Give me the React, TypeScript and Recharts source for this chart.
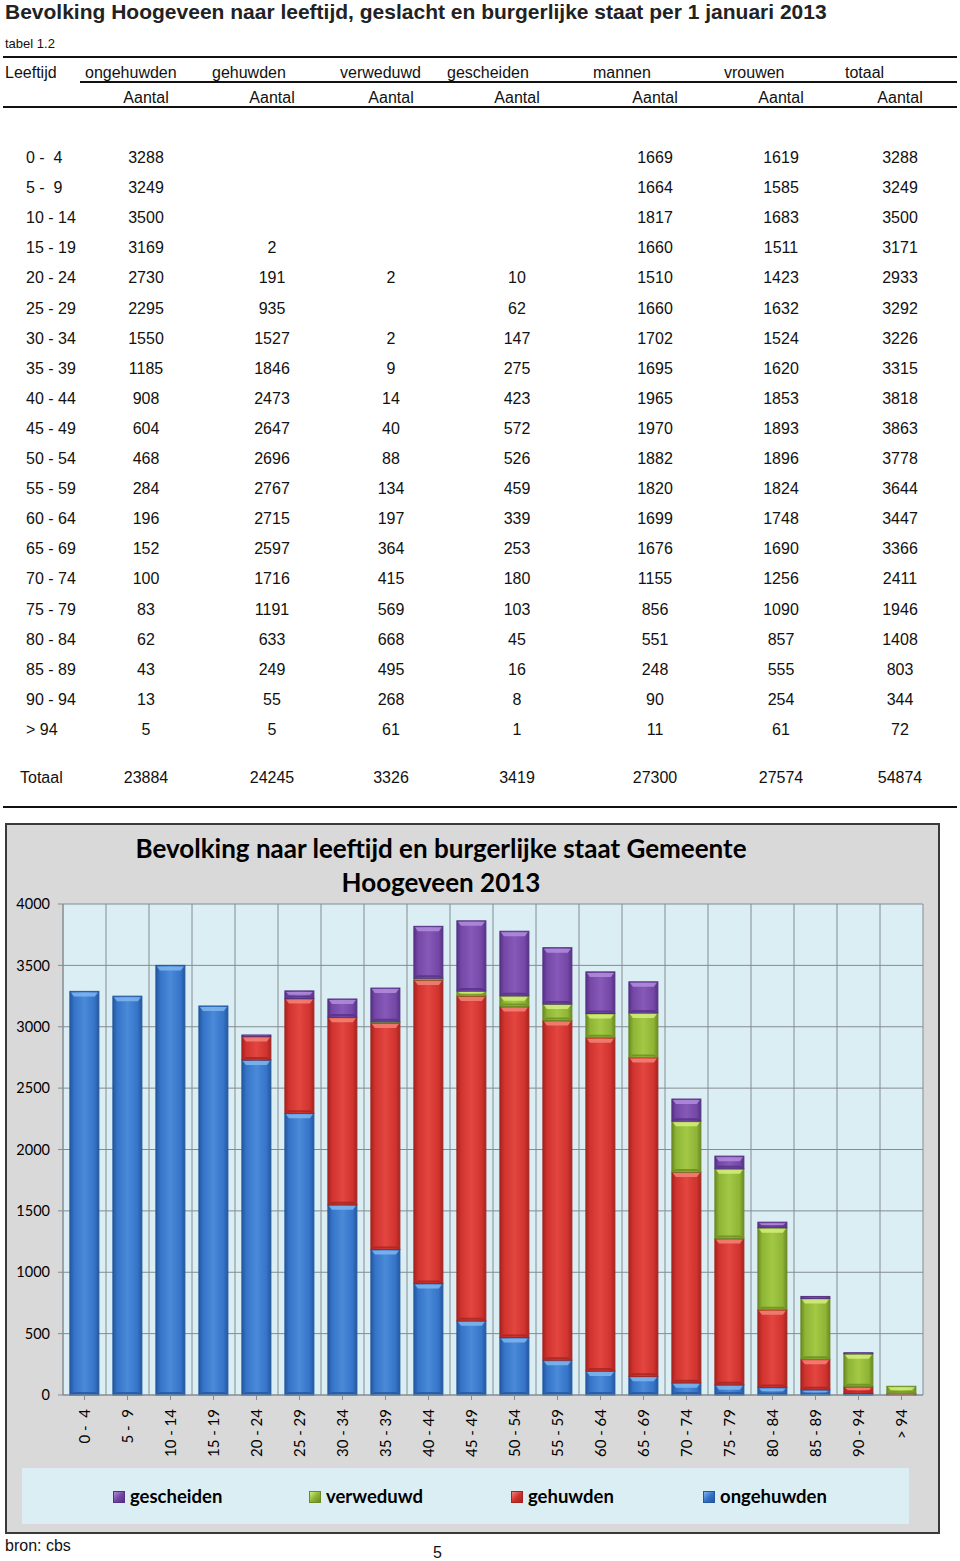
import React from 'react';
import { BarChart, Bar, XAxis, YAxis, CartesianGrid } from 'recharts';

const ages = ['0 -  4', '5 -  9', '10 - 14', '15 - 19', '20 - 24', '25 - 29', '30 - 34', '35 - 39', '40 - 44', '45 - 49', '50 - 54', '55 - 59', '60 - 64', '65 - 69', '70 - 74', '75 - 79', '80 - 84', '85 - 89', '90 - 94', '> 94'];
const ongehuwden = [3288, 3249, 3500, 3169, 2730, 2295, 1550, 1185, 908, 604, 468, 284, 196, 152, 100, 83, 62, 43, 13, 5];
const gehuwden = [null, null, null, 2, 191, 935, 1527, 1846, 2473, 2647, 2696, 2767, 2715, 2597, 1716, 1191, 633, 249, 55, 5];
const verweduwd = [null, null, null, null, 2, null, 2, 9, 14, 40, 88, 134, 197, 364, 415, 569, 668, 495, 268, 61];
const gescheiden = [null, null, null, null, 10, 62, 147, 275, 423, 572, 526, 459, 339, 253, 180, 103, 45, 16, 8, 1];
const mannen = [1669, 1664, 1817, 1660, 1510, 1660, 1702, 1695, 1965, 1970, 1882, 1820, 1699, 1676, 1155, 856, 551, 248, 90, 11];
const vrouwen = [1619, 1585, 1683, 1511, 1423, 1632, 1524, 1620, 1853, 1893, 1896, 1824, 1748, 1690, 1256, 1090, 857, 555, 254, 61];
const totaal = [3288, 3249, 3500, 3171, 2933, 3292, 3226, 3315, 3818, 3863, 3778, 3644, 3447, 3366, 2411, 1946, 1408, 803, 344, 72];
const totals = [23884, 24245, 3326, 3419, 27300, 27574, 54874];

const headers = ['ongehuwden', 'gehuwden', 'verweduwd', 'gescheiden', 'mannen', 'vrouwen', 'totaal'];
const yTicks = [0, 500, 1000, 1500, 2000, 2500, 3000, 3500, 4000];
const legendItems = ['gescheiden', 'verweduwd', 'gehuwden', 'ongehuwden'];

const columns = [ongehuwden, gehuwden, verweduwd, gescheiden, mannen, vrouwen, totaal];
const chartData = ages.map((age, i) => ({
  age,
  ongehuwden: ongehuwden[i] ?? 0,
  gehuwden: gehuwden[i] ?? 0,
  verweduwd: verweduwd[i] ?? 0,
  gescheiden: gescheiden[i] ?? 0,
}));

// table layout
const colCenters = [146, 272, 391, 517, 655, 781, 900];
const headLefts = [85, 212, 340, 447, 593, 724, 845];

const tones: Record<string, { dark: string; mid: string; light: string; hi: string }> = {
  ongehuwden: { dark: '#24579e', mid: '#3574c8', light: '#4a8ad8', hi: '#7fb6f0' },
  gehuwden: { dark: '#a62420', mid: '#d1332e', light: '#e2463f', hi: '#f38478' },
  verweduwd: { dark: '#6b8a22', mid: '#8fb536', light: '#a3c845', hi: '#d2ee7c' },
  gescheiden: { dark: '#553184', mid: '#7548a8', light: '#8658b8', hi: '#b18ddc' },
};

const BevelBar = (props: any) => {
  const { x, y, width, height, series } = props;
  if (!height || height <= 0.5) return null;
  const t = tones[series];
  const b = Math.min(5, height / 2);
  const b2 = Math.min(3, height / 3);
  return (
    <g>
      <rect x={x} y={y} width={width} height={height} fill={`url(#grad-${series})`} stroke={t.dark} strokeWidth={1} />
      <polygon
        points={`${x + 1},${y + 1} ${x + width - 1},${y + 1} ${x + width - 4},${y + b} ${x + 4},${y + b}`}
        fill={t.hi}
        opacity={0.85}
      />
      <polygon
        points={`${x + 4},${y + height - b2} ${x + width - 4},${y + height - b2} ${x + width - 1},${y + height - 1} ${x + 1},${y + height - 1}`}
        fill={t.dark}
        opacity={0.8}
      />
    </g>
  );
};

const AgeTick = (props: any) => {
  const { x, y, payload } = props;
  return (
    <g transform={`translate(${x},${y})`}>
      <text transform="rotate(-90)" textAnchor="end" dy="0.36em" fontSize={15} fill="#000" fontFamily="Lato" style={{ whiteSpace: 'pre' }}>
        {payload.value}
      </text>
    </g>
  );
};

const abs = (left: number, top: number, extra: React.CSSProperties = {}): React.CSSProperties => ({
  position: 'absolute', left, top, ...extra,
});

export default function App() {
  const rowY = (i: number) => 158 + i * 30.1;
  return (
    <div style={{ position: 'absolute', left: 0, top: 0, width: 960, height: 1561, background: '#fff', fontFamily: '"Liberation Sans", Arial, sans-serif', color: '#111' }}>
      <div style={abs(5, 0, { fontSize: 21, fontWeight: 'bold', lineHeight: '24px', color: '#222', whiteSpace: 'nowrap' })}>
        Bevolking Hoogeveen naar leeftijd, geslacht en burgerlijke staat per 1 januari 2013
      </div>
      <div style={abs(5, 36, { fontSize: 13, lineHeight: '16px' })}>tabel 1.2</div>
      <div style={abs(3, 56, { width: 954, height: 2, background: '#111' })} />
      <div style={abs(5, 63, { fontSize: 16, lineHeight: '20px' })}>Leeftijd</div>
      {headers.map((h, j) => (
        <div key={h} style={abs(headLefts[j], 63, { fontSize: 16, lineHeight: '20px' })}>{h}</div>
      ))}
      <div style={abs(80, 81, { width: 877, height: 2, background: '#111' })} />
      {headers.map((h, j) => (
        <div key={'a' + h} style={abs(colCenters[j] - 40, 88, { width: 80, textAlign: 'center', fontSize: 16, lineHeight: '20px' })}>Aantal</div>
      ))}
      <div style={abs(3, 106, { width: 954, height: 2, background: '#111' })} />
      {ages.map((age, i) => (
        <React.Fragment key={age}>
          <div style={abs(26, rowY(i) - 10, { fontSize: 16, lineHeight: '20px', whiteSpace: 'pre' })}>{age}</div>
          {columns.map((col, j) => (
            <div key={j} style={abs(colCenters[j] - 40, rowY(i) - 10, { width: 80, textAlign: 'center', fontSize: 16, lineHeight: '20px' })}>
              {col[i] ?? ''}
            </div>
          ))}
        </React.Fragment>
      ))}
      <div style={abs(20, 768, { fontSize: 16, lineHeight: '20px' })}>Totaal</div>
      {totals.map((v, j) => (
        <div key={'t' + j} style={abs(colCenters[j] - 40, 768, { width: 80, textAlign: 'center', fontSize: 16, lineHeight: '20px' })}>{v}</div>
      ))}
      <div style={abs(3, 806, { width: 954, height: 2, background: '#111' })} />

      {/* chart box */}
      <div style={abs(5, 823, { width: 935, height: 711, boxSizing: 'border-box', border: '2px solid #3a3a3a', background: '#d9d9d9' })} />
      <BarChart
        width={935}
        height={711}
        data={chartData}
        margin={{ top: 81, right: 17, left: 0, bottom: 79 }}
        barCategoryGap="16%"
        style={{ position: 'absolute', left: 5, top: 823 }}
      >
        <defs>
          {Object.keys(tones).map((k) => (
            <linearGradient key={k} id={`grad-${k}`} x1="0" y1="0" x2="1" y2="0">
              <stop offset="0" stopColor={tones[k].dark} />
              <stop offset="0.15" stopColor={tones[k].mid} />
              <stop offset="0.5" stopColor={tones[k].light} />
              <stop offset="0.85" stopColor={tones[k].mid} />
              <stop offset="1" stopColor={tones[k].dark} />
            </linearGradient>
          ))}
        </defs>
        <CartesianGrid
          fill="#dbeef4"
          fillOpacity={1}
          stroke="#848c90"
          strokeWidth={1}
          verticalCoordinatesGenerator={({ offset }: any) =>
            ages.map((_, i) => offset.left + (i * offset.width) / ages.length).concat([offset.left + offset.width])
          }
        />
        <XAxis
          dataKey="age"
          interval={0}
          height={60}
          tickSize={5}
          tickMargin={9}
          stroke="#848c90"
          tick={<AgeTick />}
        />
        <YAxis
          width={58}
          domain={[0, 4000]}
          ticks={yTicks}
          interval={0}
          tickSize={5}
          tickMargin={8}
          stroke="#848c90"
          tick={{ fontSize: 14.5, fill: '#000', fontFamily: 'Lato' }}
        />
        {['ongehuwden', 'gehuwden', 'verweduwd', 'gescheiden'].map((k) => (
          <Bar key={k} dataKey={k} stackId="a" isAnimationActive={false} shape={(p: any) => <BevelBar {...p} series={k} />} />
        ))}
      </BarChart>

      {/* chart title */}
      <div style={abs(91, 831, { width: 700, textAlign: 'center', fontFamily: 'Lato', fontWeight: 'bold', fontSize: 26, lineHeight: '34px', color: '#000' })}>
        Bevolking naar leeftijd en burgerlijke staat Gemeente
        <br />
        Hoogeveen 2013
      </div>

      {/* legend */}
      <div style={abs(22, 1468, { width: 887, height: 56, background: '#dbeef4' })} />
      {legendItems.map((k, i) => {
        const left = [113, 309, 511, 703][i];
        const t = tones[k];
        return (
          <React.Fragment key={k}>
            <div style={abs(left, 1491, { width: 12, height: 12, background: `linear-gradient(135deg, ${t.hi}, ${t.mid} 50%, ${t.dark})`, boxSizing: 'border-box', border: `1px solid ${t.dark}` })} />
            <div style={abs(left + 17, 1483, { fontFamily: 'Lato', fontWeight: 'bold', fontSize: 18.5, lineHeight: '26px', color: '#000' })}>{k}</div>
          </React.Fragment>
        );
      })}

      <div style={abs(5, 1536, { fontSize: 16, lineHeight: '20px' })}>bron: cbs</div>
      <div style={abs(433, 1543, { fontSize: 16, lineHeight: '20px' })}>5</div>
    </div>
  );
}
